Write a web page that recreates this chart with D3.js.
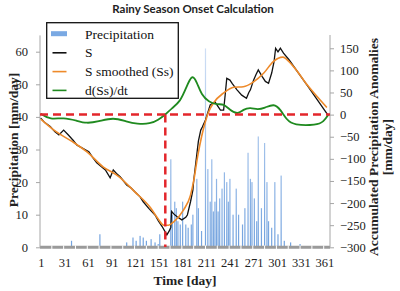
<!DOCTYPE html>
<html><head><meta charset="utf-8">
<script src="https://cdn.jsdelivr.net/npm/d3@7"></script>
<style>html,body{margin:0;padding:0;background:#fff;}svg{display:block;}</style>
</head><body>
<script>
// ---------- data ----------
const title = "Rainy Season Onset Calculation";
const xTicks = [1,31,61,91,121,151,181,211,241,271,301,331,361];
const leftTicks = [0,10,20,30,40,50,60];
const rightTicks = [-300,-250,-200,-150,-100,-50,0,50,100,150];
const onsetDay = 159;

const rainDays = [40,76,110,118,122,127,131,135,141,146,150,152,
  166,168,171,173,175,178,181,185,188,192,194,199,201,205,210,213,216,218,220,222,224,226,228,231,234,237,239,241,245,249,252,257,260,264,267,269,272,275,277,281,285,288,290,294,298,302,306,310,318,330];
const rainVals = [2,4,1.5,3,2,3.5,3,2,2.5,1.5,1,4,
  27,10,14,12,8,7,14,7,6,7,10,21,12,5,61,24,14,27,11,14,21,11,15,18,23,20,14,21,10,18,10,7,12,29,21,20,15,8,34,12,32,20,8,6,20,4,22,2,1.5,1];

const sDays = [1,6,13,19,24,30,36,42,47,51,56,62,67,72,78,83,89,93,97,102,110,115,120,127,131,138,146,150,155,161,164,166,167,170,174,180,185,187,191,194,195,197,199,201,204,206,210,213,216,222,226,229,233,235,237,241,244,250,256,262,265,267,271,274,277,282,286,290,294,297,299,302,305,309,316,340,365];
const sVals = [-8,-18,-27,-39,-46,-35,-46,-58,-69,-73,-78,-84,-97,-109,-118,-125,-143,-125,-133,-141,-159,-165,-174,-186,-197,-212,-227,-240,-253,-272,-263,-255,-219,-225,-231,-238,-232,-227,-197,-171,-150,-120,-90,-60,-35,-28,-12,5,22,29,18,10,10,45,82,78,70,56,44,37,50,56,78,90,101,86,75,71,94,120,150,142,150,139,124,64,0];

const ssDays = [1,20,40,60,80,100,120,140,150,157,163,170,182,191,195,200,205,210,215,220,233,246,258,271,284,296,308,320,340,364];
const ssVals = [-10,-38,-60,-85,-118,-140,-174,-210,-236,-250,-250,-242,-216,-182,-150,-95,-50,-15,10,26,49,62,63,74,94,120,130,112,65,16];

const dDays = [1,13,30,47,59,74,93,110,123,140,150,159,167,178,186,193,199,205,214,225,233,241,251,258,267,276,285,297,305,313,322,351,360,366];
const dVals = [2,-12,-6,-14,-20,-16,-6,-16,-21,-21,-12,0,14,29,63,92,74,44,29,22,25,10,0,12,16,11,15,25,12,-12,-24,-24,-16,0];

// ---------- layout ----------
const W = 400, H = 291;
const svg = d3.select("body").append("svg").attr("width", W).attr("height", H);
const x = d3.scaleLinear().domain([0, 368]).range([40, 330]);
const yL = d3.scaleLinear().domain([0, 65]).range([247.3, 35.4]);
const yR = d3.scaleLinear().domain([-300, 180]).range([247.3, 35]);
const serif = "'Liberation Serif','Times New Roman',serif";
const axisGray = "#a6a6a6";

const defs = svg.append("defs");
const grad = defs.append("linearGradient").attr("id","rainGrad")
  .attr("gradientUnits","userSpaceOnUse").attr("x1",0).attr("x2",0).attr("y1",yL(0)).attr("y2",yL(60));
grad.append("stop").attr("offset","0%").attr("stop-color","#4f8bd6");
grad.append("stop").attr("offset","100%").attr("stop-color","#c2d6f2");

// title
svg.append("text").attr("x", 193).attr("y", 12.5).attr("text-anchor","middle")
  .attr("font-family","Lato, 'Open Sans', sans-serif").attr("font-weight","bold").attr("font-size", 11.5)
  .attr("fill","#222").text(title);

// precipitation bars
svg.append("g").selectAll("rect").data(rainDays.map((d,i)=>[d,rainVals[i]])).join("rect")
  .attr("x", d => x(d[0]) - 0.6).attr("width", 1.2)
  .attr("y", d => yL(d[1])).attr("height", d => yL(0) - yL(d[1]))
  .attr("fill","url(#rainGrad)").attr("opacity",0.8);

// gray baseline band with gaps
svg.append("line").attr("x1", 40).attr("x2", 330).attr("y1", 247.3).attr("y2", 247.3)
  .attr("stroke", "#9a9a9a").attr("stroke-width", 3);
svg.append("g").selectAll("line").data(d3.range(15, 366, 15)).join("line")
  .attr("x1", d => x(d)).attr("x2", d => x(d)).attr("y1", 245.5).attr("y2", 249.2)
  .attr("stroke", "#fff").attr("stroke-width", 1);

// left axis
const gL = svg.append("g").attr("transform","translate(40,0)")
  .call(d3.axisLeft(yL).tickValues(leftTicks).tickSize(4).tickPadding(8));
gL.select(".domain").attr("stroke", axisGray).attr("d", `M0,${yL(65)}V${yL(0)}`);
gL.selectAll(".tick line").attr("stroke", axisGray);
gL.selectAll("text").attr("font-family", serif).attr("font-size", 12.5).attr("fill","#222");

// right axis
const gR = svg.append("g").attr("transform","translate(330,0)")
  .call(d3.axisRight(yR).tickValues(rightTicks).tickSize(4).tickPadding(6));
gR.select(".domain").attr("stroke", axisGray).attr("d", `M0,${yR(180)}V${yR(-300)}`);
gR.selectAll(".tick line").attr("stroke", axisGray);
gR.selectAll("text").attr("font-family", serif).attr("font-size", 12.5).attr("fill","#222");

// x axis labels
const gX = svg.append("g").attr("transform","translate(0,249)")
  .call(d3.axisBottom(x).tickValues(xTicks).tickSize(0).tickPadding(9));
gX.select(".domain").remove();
gX.selectAll("text").attr("font-family", serif).attr("font-size", 12.5).attr("fill","#222");

// lines
const lineR = (days, vals, curve) => d3.line().x((d,i)=>x(days[i])).y((d,i)=>yR(vals[i])).curve(curve)(vals);
svg.append("path").attr("d", lineR(sDays, sVals, d3.curveLinear)).attr("fill","none").attr("stroke","#111").attr("stroke-width",1.3);
svg.append("path").attr("d", lineR(ssDays, ssVals, d3.curveMonotoneX)).attr("fill","none").attr("stroke","#ee8a2a").attr("stroke-width",1.6);
svg.append("path").attr("d", lineR(dDays, dVals, d3.curveBasis)).attr("fill","none").attr("stroke","#1f8a1f").attr("stroke-width",1.8);

// red dashed lines
svg.append("line").attr("x1", 40).attr("x2", 330).attr("y1", yR(0)).attr("y2", yR(0))
  .attr("stroke","#e3262b").attr("stroke-width",2.5).attr("stroke-dasharray","8,5");
svg.append("line").attr("x1", x(onsetDay)).attr("x2", x(onsetDay)).attr("y1", yR(0)).attr("y2", 247)
  .attr("stroke","#e3262b").attr("stroke-width",2.5).attr("stroke-dasharray","8,5");

// legend
const lg = svg.append("g");
lg.append("rect").attr("x",46.7).attr("y",22.7).attr("width",131.6).attr("height",75.6)
  .attr("fill","#fff").attr("stroke","#111").attr("stroke-width",1.3);
const legendItems = [
  {label:"Precipitation", type:"rect", color:"#7aa9e3"},
  {label:"S", type:"line", color:"#111"},
  {label:"S smoothed (Ss)", type:"line", color:"#ee8a2a"},
  {label:"d(Ss)/dt", type:"line", color:"#1f8a1f"}
];
legendItems.forEach((it,i) => {
  const cy = 34 + i*18.8;
  if (it.type === "rect") {
    lg.append("rect").attr("x",51).attr("y",cy-2.8).attr("width",16).attr("height",5).attr("fill",it.color);
  } else {
    lg.append("line").attr("x1",52.5).attr("x2",66.5).attr("y1",cy).attr("y2",cy)
      .attr("stroke",it.color).attr("stroke-width",1.6);
  }
  lg.append("text").attr("x",85).attr("y",cy+4.5).attr("font-family",serif).attr("font-size",13.5)
    .attr("fill","#111").text(it.label);
});

// axis titles
svg.append("text").attr("transform","translate(18,140) rotate(-90)").attr("text-anchor","middle")
  .attr("font-family",serif).attr("font-weight","bold").attr("font-size",13.5).attr("fill","#222")
  .text("Precipitation [mm/day]");
svg.append("text").attr("transform","translate(378,147) rotate(-90)").attr("text-anchor","middle")
  .attr("font-family",serif).attr("font-weight","bold").attr("font-size",13.5).attr("fill","#222")
  .text("Accumulated Precipitation Anomalies");
svg.append("text").attr("transform","translate(392,147) rotate(-90)").attr("text-anchor","middle")
  .attr("font-family",serif).attr("font-weight","bold").attr("font-size",13.5).attr("fill","#222")
  .text("[mm/day]");
svg.append("text").attr("x",185).attr("y",285).attr("text-anchor","middle")
  .attr("font-family",serif).attr("font-weight","bold").attr("font-size",13.5).attr("fill","#222")
  .text("Time [day]");
</script>
</body></html>
